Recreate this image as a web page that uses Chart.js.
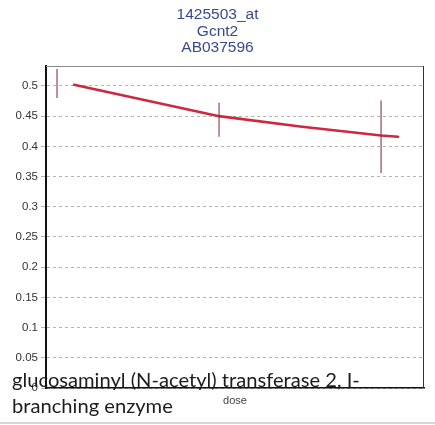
<!DOCTYPE html>
<html>
<head>
<meta charset="utf-8">
<script src="https://cdn.jsdelivr.net/npm/chart.js@4/dist/chart.umd.min.js"></script>
<style>
  html, body { margin: 0; padding: 0; background: #fff; }
  canvas { display: block; }
</style>
</head>
<body>
<canvas id="c" width="435" height="425"></canvas>
<script>
// Probe set / gene header
const titleLines = ['1425503_at', 'Gcnt2', 'AB037596'];
// Gene description printed across the foot of the plot
const geneName = ['glucosaminyl (N-acetyl) transferase 2, I-', 'branching enzyme'];
const xTitle = 'dose';

// Per-dose spread (vertical bars)
const doses = [0, 1, 2];
const errLow = [0.480, 0.416, 0.356];
const errHigh = [0.528, 0.472, 0.476];

// Fitted response curve
const fitDose = [0.105, 1, 1.5, 2, 2.105];
const fitValue = [0.502, 0.450, 0.433, 0.418, 0.416];

// Value axis ticks
const yTicks = [0, 0.05, 0.1, 0.15, 0.2, 0.25, 0.3, 0.35, 0.4, 0.45, 0.5];

const spreadSets = doses.map((d, i) => ({
  type: 'line',
  data: [{ x: d, y: errLow[i] }, { x: d, y: errHigh[i] }],
  borderColor: 'rgba(125, 38, 62, 0.85)',
  borderWidth: 1.2,
  pointRadius: 0,
  fill: false
}));

const fitSet = {
  type: 'line',
  data: fitDose.map((d, i) => ({ x: d, y: fitValue[i] })),
  borderColor: '#cc2840',
  borderWidth: 2.6,
  pointRadius: 0,
  tension: 0,
  fill: false,
  borderCapStyle: 'round'
};

// Top and right edges of the plot frame
const frame = {
  id: 'frame',
  beforeDatasetsDraw(chart) {
    const { ctx, chartArea: a } = chart;
    ctx.save();
    ctx.lineWidth = 1;
    ctx.strokeStyle = '#8a8a8a';
    ctx.beginPath();
    ctx.moveTo(a.left, a.top + 0.5);
    ctx.lineTo(a.right, a.top + 0.5);
    ctx.stroke();
    ctx.strokeStyle = '#333';
    ctx.beginPath();
    ctx.moveTo(a.right - 0.5, a.top);
    ctx.lineTo(a.right - 0.5, a.bottom);
    ctx.stroke();
    ctx.restore();
  }
};

// Gene description text, drawn over the lower part of the plot
const description = {
  id: 'description',
  afterDraw(chart) {
    const { ctx } = chart;
    ctx.save();
    const family = 'Lato, "Open Sans", sans-serif';
    ctx.font = '20px ' + family;
    const w = ctx.measureText(geneName[0]).width;
    const size = 20 * 348 / w;
    ctx.font = size.toFixed(2) + 'px ' + family;
    ctx.fillStyle = '#1c1c1c';
    ctx.textBaseline = 'alphabetic';
    ctx.textAlign = 'left';
    ctx.fillText(geneName[0], 12, 387);
    ctx.fillText(geneName[1], 12, 413);
    ctx.strokeStyle = '#d6d6d6';
    ctx.lineWidth = 2;
    ctx.beginPath();
    ctx.moveTo(0, 423);
    ctx.lineTo(435, 423);
    ctx.stroke();
    ctx.restore();
  }
};

new Chart(document.getElementById('c'), {
  type: 'line',
  data: { datasets: [...spreadSets, fitSet] },
  options: {
    responsive: false,
    devicePixelRatio: 1,
    animation: false,
    events: [],
    layout: { padding: 0 },
    plugins: {
      legend: { display: false },
      tooltip: { enabled: false },
      title: {
        display: true,
        text: titleLines,
        color: '#3a4890',
        font: { family: '"Liberation Sans", Arial, sans-serif', size: 15.5, weight: 'normal', lineHeight: 1.065 },
        padding: { top: 6.5, bottom: 10 }
      }
    },
    scales: {
      x: {
        type: 'linear',
        min: -0.068,
        max: 2.265,
        ticks: { display: false },
        grid: { display: false },
        border: { color: '#111', width: 1.5 },
        title: {
          display: true,
          text: xTitle,
          color: '#444',
          font: { family: '"Liberation Sans", Arial, sans-serif', size: 11 },
          padding: { top: 0, bottom: 17.4 }
        },
        afterFit(scale) { scale.height = 37; }
      },
      y: {
        type: 'linear',
        min: 0,
        max: 0.533,
        afterBuildTicks(scale) { scale.ticks = yTicks.map(v => ({ value: v })); },
        ticks: {
          color: '#333',
          padding: 3,
          font: { family: '"Liberation Sans", Arial, sans-serif', size: 11.5 },
          callback: v => String(Number(v.toFixed(2)))
        },
        grid: { color: '#b4b4b4', lineWidth: 1, tickLength: 5 },
        border: { color: '#111', width: 2, dash: [3, 3] },
        afterFit(scale) { scale.width = 46; }
      },
      // empty margin on the right of the plot
      yRight: {
        type: 'linear',
        position: 'right',
        ticks: { display: false },
        grid: { display: false, drawTicks: false },
        border: { display: false },
        afterFit(scale) { scale.width = 11; }
      }
    }
  },
  plugins: [frame, description]
});
</script>
</body>
</html>
